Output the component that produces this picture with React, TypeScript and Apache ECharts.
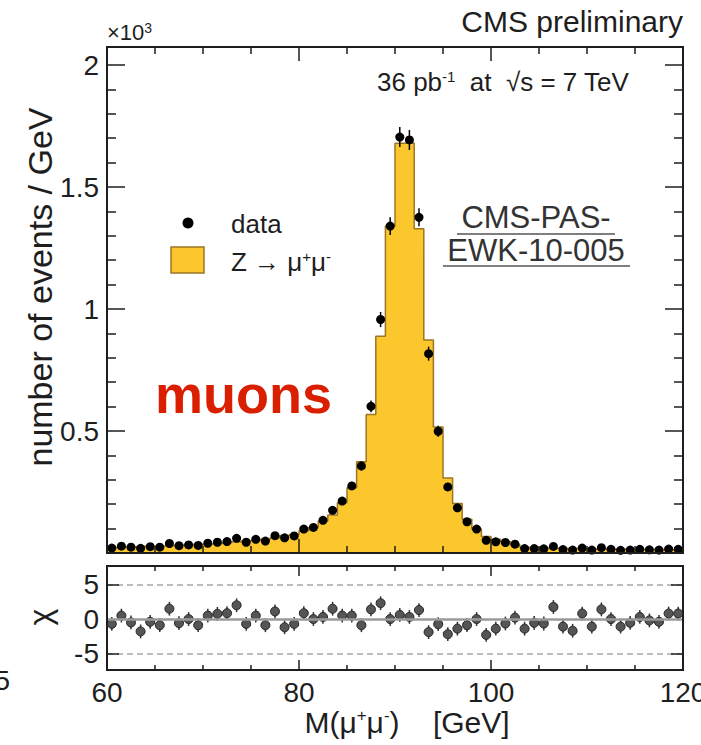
import React, { useEffect, useRef } from "react";
import * as echarts from "echarts";

// ---- data (units: 10^3 events / GeV), bins of 1 GeV from 60 to 120 GeV ----
const MASS_MIN = 60;
const MASS_MAX = 120;
const BIN_WIDTH = 1;

// Z -> mu+ mu- simulation (filled histogram)
const zMuMuMC = [
  0.023, 0.025, 0.026, 0.028, 0.028, 0.029, 0.031, 0.033, 0.033, 0.036,
  0.037, 0.039, 0.042, 0.046, 0.049, 0.052, 0.056, 0.062, 0.072, 0.076,
  0.090, 0.105, 0.131, 0.156, 0.206, 0.267, 0.374, 0.568, 0.888, 1.340,
  1.680, 1.681, 1.329, 0.873, 0.516, 0.307, 0.203, 0.138, 0.098, 0.068,
  0.056, 0.047, 0.035, 0.024, 0.021, 0.020, 0.019, 0.018, 0.018, 0.017,
  0.016, 0.016, 0.015, 0.015, 0.014, 0.014, 0.014, 0.013, 0.013, 0.012,
];

// observed data points
const observed = [
  0.020, 0.028, 0.024, 0.019, 0.026, 0.024, 0.039, 0.030, 0.033, 0.031,
  0.040, 0.044, 0.047, 0.060, 0.044, 0.056, 0.049, 0.071, 0.062, 0.070,
  0.098, 0.105, 0.134, 0.175, 0.213, 0.275, 0.357, 0.601, 0.957, 1.340,
  1.705, 1.693, 1.376, 0.817, 0.499, 0.271, 0.185, 0.128, 0.098, 0.052,
  0.046, 0.043, 0.036, 0.018, 0.018, 0.017, 0.027, 0.014, 0.012, 0.020,
  0.012, 0.022, 0.015, 0.011, 0.012, 0.015, 0.013, 0.012, 0.016, 0.015,
];

// pull (chi) per bin
const chiValues = [
  -0.7, 0.5, -0.5, -1.8, -0.4, -0.9, 1.5, -0.6, 0.0, -0.9,
  0.5, 0.75, 0.85, 2.0, -0.7, 0.5, -0.9, 1.1, -1.2, -0.7,
  0.85, 0.0, 0.3, 1.5, 0.5, 0.5, -0.9, 1.4, 2.3, 0.0,
  0.6, 0.3, 1.3, -1.9, -0.75, -2.2, -1.4, -0.9, 0.0, -2.3,
  -1.4, -0.65, 0.2, -1.4, -0.55, -0.65, 1.75, -1.1, -1.7, 0.8,
  -1.1, 1.4, 0.0, -1.1, -0.55, 0.3, -0.2, -0.4, 0.8, 0.8,
];

const xTickLabels = [60, 80, 100, 120];
const mainYTickLabels = [0.5, 1, 1.5, 2];
const chiTickLabels = [-5, 0, 5];

const FONT = "'Liberation Sans', Arial, Helvetica, sans-serif";
const INK = "#1e1e1e";
const YELLOW = "#fcc62d";
const YELLOW_EDGE = "#9c7624";

export default function App() {
  const ref = useRef<HTMLDivElement | null>(null);

  useEffect(() => {
    if (!ref.current) return;
    const chart = echarts.init(ref.current, undefined, { renderer: "svg" });

    const edge = (i: number) => MASS_MIN + i * BIN_WIDTH;
    const mcStep = zMuMuMC.map((v, i) => [edge(i), v]);
    mcStep.push([MASS_MAX, zMuMuMC[zMuMuMC.length - 1]]);
    const dataXY = observed.map((v, i) => [edge(i) + BIN_WIDTH / 2, v]);
    const dataErr = observed.map((v, i) => [
      edge(i) + BIN_WIDTH / 2,
      v,
      Math.sqrt(v * 1000) / 1000,
    ]);
    const chiXY = chiValues.map((v, i) => [edge(i) + BIN_WIDTH / 2, v]);
    const chiErr = chiValues.map((v, i) => [edge(i) + BIN_WIDTH / 2, v, 1]);

    const errRender = (color: string) => (params: any, api: any) => {
      const x = api.value(0);
      const y = api.value(1);
      const e = api.value(2);
      const p1 = api.coord([x, y - e]);
      const p2 = api.coord([x, y + e]);
      return {
        type: "line",
        shape: { x1: p1[0], y1: p1[1], x2: p2[0], y2: p2[1] },
        style: { stroke: color, lineWidth: 1.5 },
      };
    };

    const xAxis = (gridIndex: number, position: string, showLabel: boolean) => ({
      type: "value",
      gridIndex,
      position,
      min: MASS_MIN,
      max: MASS_MAX,
      interval: 20,
      z: 5,
      axisLine: { show: true, onZero: false, lineStyle: { color: INK, width: 2 } },
      axisTick: {
        show: true,
        inside: true,
        length: gridIndex === 0 ? 14 : 10,
        lineStyle: { color: INK, width: 1.5 },
      },
      minorTick: {
        show: true,
        splitNumber: 4,
        length: gridIndex === 0 ? 7 : 5,
        lineStyle: { color: INK, width: 1.5 },
      },
      splitLine: { show: false },
      minorSplitLine: { show: false },
      axisLabel: {
        show: showLabel,
        fontSize: 28,
        color: INK,
        fontFamily: FONT,
        margin: 8,
        hideOverlap: false,
        formatter: (v: number) => (xTickLabels.includes(v) ? String(v) : ""),
      },
    });

    const mainY = (position: string, showLabel: boolean) => ({
      type: "value",
      gridIndex: 0,
      position,
      min: 0,
      max: 2.074,
      interval: 0.5,
      z: 5,
      axisLine: { show: true, onZero: false, lineStyle: { color: INK, width: 2 } },
      axisTick: { show: true, inside: true, length: 18, lineStyle: { color: INK, width: 1.5 } },
      minorTick: { show: true, splitNumber: 5, length: 9, lineStyle: { color: INK, width: 1.5 } },
      splitLine: { show: false },
      minorSplitLine: { show: false },
      axisLabel: {
        show: showLabel,
        fontSize: 28,
        color: INK,
        fontFamily: FONT,
        margin: 8,
        formatter: (v: number) => {
          const hit = mainYTickLabels.find((t) => Math.abs(t - v) < 1e-6);
          return hit === undefined ? "" : String(hit);
        },
      },
    });

    const chiY = (position: string, showLabel: boolean) => ({
      type: "value",
      gridIndex: 1,
      position,
      min: -7.4,
      max: 7.7,
      z: 5,
      axisLine: { show: true, onZero: false, lineStyle: { color: INK, width: 2 } },
      axisTick: {
        show: true,
        inside: true,
        length: 12,
        customValues: [-5, 5],
        lineStyle: { color: INK, width: 1.5 },
      },
      splitLine: { show: false },
      axisLabel: {
        show: showLabel,
        customValues: chiTickLabels,
        fontSize: 28,
        color: INK,
        fontFamily: FONT,
        margin: 8,
      },
    });

    const txt = (text: string, x: number, y: number, opts: any = {}) => ({
      type: "text",
      x,
      y,
      rotation: opts.rotation || 0,
      style: {
        text,
        fill: opts.color || INK,
        fontSize: opts.fontSize || 28,
        fontFamily: FONT,
        fontWeight: opts.fontWeight || "normal",
        textAlign: opts.align || "left",
        textVerticalAlign: "middle",
        rich: opts.rich,
      },
      z: 20,
    });

    const supRich = (size: number, sup: number, color = INK) => ({
      n: { fontSize: size, fontFamily: FONT, fill: color, lineHeight: size, verticalAlign: "bottom" },
      s: { fontSize: sup, fontFamily: FONT, fill: color, lineHeight: sup, verticalAlign: "top" },
    });

    chart.setOption({
      animation: false,
      backgroundColor: "#ffffff",
      grid: [
        { left: 107, top: 47, width: 576, height: 506, show: true, borderColor: INK, borderWidth: 2, backgroundColor: "transparent", containLabel: false, outerBoundsMode: "none" },
        { left: 107, top: 566, width: 576, height: 104, show: true, borderColor: INK, borderWidth: 2, backgroundColor: "transparent", containLabel: false, outerBoundsMode: "none" },
      ],
      xAxis: [
        xAxis(0, "bottom", false),
        xAxis(0, "top", false),
        xAxis(1, "bottom", true),
        xAxis(1, "top", false),
      ],
      yAxis: [mainY("left", true), mainY("right", false), chiY("left", true), chiY("right", false)],
      series: [
        {
          name: "Z->mumu",
          type: "line",
          xAxisIndex: 0,
          yAxisIndex: 0,
          step: "end",
          data: mcStep,
          symbol: "none",
          lineStyle: { color: YELLOW_EDGE, width: 1.5 },
          areaStyle: { color: YELLOW, opacity: 1 },
          z: 2,
        },
        {
          name: "data err",
          type: "custom",
          xAxisIndex: 0,
          yAxisIndex: 0,
          data: dataErr,
          encode: { x: 0, y: 1 },
          renderItem: errRender("#000"),
          z: 3,
        },
        {
          name: "data",
          type: "scatter",
          xAxisIndex: 0,
          yAxisIndex: 0,
          data: dataXY,
          symbol: "circle",
          symbolSize: 9,
          itemStyle: { color: "#000", opacity: 1 },
          z: 4,
        },
        {
          name: "chi lines",
          type: "line",
          xAxisIndex: 2,
          yAxisIndex: 2,
          data: [],
          markLine: {
            silent: true,
            symbol: "none",
            label: { show: false },
            data: [
              { yAxis: 0, lineStyle: { color: "#9a9a9a", width: 2.5, type: "solid" } },
              { yAxis: 5, lineStyle: { color: "#a8a8a8", width: 1.5, type: [6, 4] } },
              { yAxis: -5, lineStyle: { color: "#a8a8a8", width: 1.5, type: [6, 4] } },
            ],
          },
          z: 1,
        },
        {
          name: "chi err",
          type: "custom",
          xAxisIndex: 2,
          yAxisIndex: 2,
          data: chiErr,
          encode: { x: 0, y: 1 },
          renderItem: errRender("#333"),
          z: 3,
        },
        {
          name: "chi",
          type: "scatter",
          xAxisIndex: 2,
          yAxisIndex: 2,
          data: chiXY,
          symbol: "circle",
          symbolSize: 9,
          itemStyle: { color: "#555", borderColor: "#222", borderWidth: 1, opacity: 1 },
          z: 4,
        },
      ],
      graphic: [
        txt("CMS preliminary", 683, 21, { align: "right", fontSize: 30 }),
        txt("{n|×10}{s|3}", 107, 32, { rich: supRich(22, 14) }),
        txt("{n|36 pb}{s|-1}{n|  at  √s = 7 TeV}", 377, 82, { rich: supRich(26, 15) }),
        { type: "circle", shape: { cx: 188, cy: 223, r: 5.5 }, style: { fill: "#000" }, z: 20 },
        txt("data", 231, 224, { fontSize: 26 }),
        { type: "rect", shape: { x: 171, y: 247, width: 33, height: 26 }, style: { fill: YELLOW, stroke: YELLOW_EDGE, lineWidth: 1.5 }, z: 20 },
        txt("{n|Z → μ}{s|+}{n|μ}{s|-}", 231, 262, { rich: supRich(26, 15) }),
        txt("CMS-PAS-", 536, 217, { align: "center", fontSize: 31, color: "#333" }),
        { type: "line", shape: { x1: 457, y1: 234, x2: 615, y2: 234 }, style: { stroke: "#555", lineWidth: 1.5 }, z: 20 },
        txt("EWK-10-005", 536, 250, { align: "center", fontSize: 31, color: "#333" }),
        { type: "line", shape: { x1: 443, y1: 266, x2: 630, y2: 266 }, style: { stroke: "#555", lineWidth: 1.5 }, z: 20 },
        txt("muons", 155, 394, { fontSize: 54, fontWeight: "bold", color: "#da1e00" }),
        txt("number of events / GeV", 40, 287, { rotation: Math.PI / 2, align: "center", fontSize: 34 }),
        txt("χ", 40, 617, { rotation: Math.PI / 2, align: "center", fontSize: 32 }),
        txt("{n|M(μ}{s|+}{n|μ}{s|-}{n|)    [GeV]}", 407, 722, { align: "center", rich: supRich(30, 17) }),
        txt("5", 10, 680, { align: "right", fontSize: 28 }),
      ],
    });

    return () => chart.dispose();
  }, []);

  return (
    <div
      ref={ref}
      style={{ position: "absolute", left: 0, top: 0, width: 701, height: 745 }}
    />
  );
}
